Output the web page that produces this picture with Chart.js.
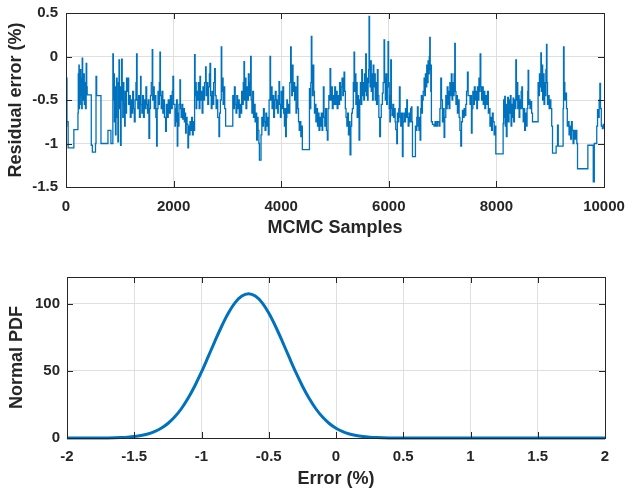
<!DOCTYPE html>
<html><head><meta charset="utf-8">
<script src="https://cdn.jsdelivr.net/npm/chart.js@4"></script>
<style>
html,body{margin:0;padding:0;background:#fff;width:626px;height:490px;overflow:hidden}
canvas{position:absolute;left:0;display:block}
</style></head><body>
<canvas id="c1" width="626" height="245" style="top:0;width:626px;height:245px"></canvas>
<canvas id="c2" width="626" height="245" style="top:245px;width:626px;height:245px"></canvas>
<script>
// ---------- data ----------
// MCMC trace: [sample index, residual error (%)]
const residualTrace = [
[0,0.0],[6,-0.8],[12,-0.25],[18,-0.75],[40,-1.05],[140,-1.05],[146,-0.84],[215,-0.84],[222,-0.65],[228,-0.2],[234,-0.5],[240,-0.1],[246,-0.6],[252,-0.3],[258,-0.55],[266,-0.15],[274,-0.45],[282,-0.25],[292,-0.6],[301,-0.02],[310,-0.35],[320,-0.5],[330,-0.2],[340,-0.55],[350,-0.3],[362,-0.6],[375,-0.08],[385,-0.35],[394,-0.44],[465,-0.44],[470,-1.02],[490,-1.1],[540,-1.1],[548,-1.0],[558,-0.23],[570,-0.45],[640,-0.45],[650,-1.0],[775,-1.0],[780,-0.85],[828,-0.85],[835,-1.0],[860,-1.0],[871,0.03],
[880,-0.5],[890,-0.2],[900,-0.75],[910,-0.35],[920,-0.9],[930,-0.5],[940,-0.25],[950,-0.7],[964,-0.98],[975,-0.3],[985,-0.04],[995,-0.6],[1005,-0.35],[1014,-1.02],[1025,-0.5],[1035,-0.03],[1045,-0.45],[1055,-0.7],[1065,-0.3],[1075,-0.55],[1090,-0.8],[1100,-0.4],[1110,-0.65],[1125,-0.25],[1138,-0.4],[1150,-0.25],[1165,-0.55],[1180,-0.45],[1195,-0.7],[1210,-0.5],[1225,-0.65],[1240,-0.4],[1255,-0.6],[1270,-0.75],[1285,-0.5],[1300,-0.3],[1312,0.03],[1322,-0.5],[1335,-0.6],[1350,-0.45],[1365,-0.7],[1380,-0.5],[1386,-0.23],[1395,-0.55],[1410,-0.65],[1425,-0.45],[1440,-0.7],[1455,-0.5],[1470,-0.6],[1485,-0.35],[1500,-0.55],[1515,-0.65],[1530,-0.5],[1541,-0.94],[1555,-0.6],[1570,-0.45],[1585,-0.3],[1603,0.08],[1612,-0.5],[1625,-0.35],[1640,-0.6],[1655,-0.45],[1670,-0.7],[1684,-1.03],[1695,-0.6],[1710,-0.4],[1725,-0.55],[1735,-0.3],[1746,0.05],[1755,-0.45],[1770,-0.6],[1785,-0.4],[1800,-0.65],[1815,-0.5],[1830,-0.7],[1851,-0.86],[1865,-0.55],[1880,-0.7],[1900,-0.5],[1920,-0.65],[1940,-0.45],[1960,-0.6],[1975,-0.4],[1987,-0.23],[2000,-0.55],[2025,-0.8],
[2035,-0.6],[2045,-0.75],[2055,-0.5],[2068,-1.03],[2078,-0.65],[2090,-0.8],[2100,-0.55],[2118,-0.27],[2128,-0.6],[2140,-0.7],[2155,-0.55],[2170,-0.72],[2185,-0.6],[2200,-0.75],[2212,-0.65],[2223,-0.88],[2235,-0.7],[2250,-0.78],[2266,-1.05],[2278,-0.8],[2290,-0.9],[2305,-0.75],[2320,-0.85],[2335,-0.7],[2350,-0.9],[2365,-0.75],[2378,-0.85],[2390,0.02],[2400,-0.45],[2410,-0.3],[2420,-0.6],[2430,-0.4],[2445,-0.5],[2460,-0.3],[2475,-0.6],[2490,-0.23],[2500,-0.5],[2515,-0.4],[2530,-0.65],[2545,-0.35],[2560,-0.5],[2575,-0.3],[2595,-0.12],[2605,-0.45],[2620,-0.3],[2635,-0.55],[2650,-0.35],[2665,-0.2],[2676,-0.08],[2688,-0.45],[2700,-0.6],[2715,-0.4],[2730,-0.55],[2745,-0.3],[2762,-0.14],[2775,-0.45],[2790,-0.6],[2805,-0.5],[2820,-0.7],[2843,-0.92],[2855,-0.65],[2870,-0.5],[2886,0.11],[2895,-0.4],[2905,-0.25],[2920,-0.55],[2935,-0.35],[2950,-0.6],[2967,-0.8],[3091,-0.8],[3100,-0.45],[3115,-0.6],[3130,-0.35],[3145,-0.55],[3160,-0.65],[3175,-0.45],[3190,-0.6],[3205,-0.5],[3220,-0.7],[3235,-0.55],[3250,-0.65],[3265,-0.4],[3280,-0.55],[3295,-0.3],[3308,-0.06],[3318,-0.5],[3330,-0.25],[3345,-0.6],[3360,-0.35],[3375,-0.5],[3390,-0.2],[3405,-0.45],[3420,-0.3],[3432,0.0],[3442,-0.5],[3455,-0.65],[3470,-0.4],[3485,-0.7],[3500,-0.55],[3515,-0.75],[3530,-0.65],[3544,-0.96],[3556,-0.7],[3570,-0.85],[3585,-1.0],[3595,-1.19],[3615,-1.19],[3625,-0.9],[3640,-0.7],[3655,-0.8],[3670,-0.6],[3685,-0.75],[3700,-0.85],[3715,-0.65],[3730,-0.8],[3745,-0.7],[3760,-0.9],[3775,-0.5],[3792,0.0],[3802,-0.5],[3815,-0.35],[3830,-0.6],[3845,-0.45],[3860,-0.7],[3875,-0.5],[3890,-0.4],[3905,-0.6],[3920,-0.5],[3935,-0.65],[3945,-0.45],[3959,-0.29],[3970,-0.55],[3985,-0.7],[4000,-0.4],[4015,-0.6],[4030,-0.35],[4045,-0.65],[4060,-0.8],[4070,-0.6],[4083,-0.92],
[4095,-0.7],[4105,-0.5],[4114,-0.65],[4130,-0.55],[4145,-0.65],[4160,-0.3],[4176,0.11],[4186,-0.2],[4196,-0.45],[4207,-0.1],[4220,-0.4],[4235,-0.3],[4250,-0.5],[4262,-0.35],[4275,-0.65],[4288,-0.55],[4300,-0.23],[4310,-0.6],[4322,-0.75],[4335,-0.85],[4350,-0.75],[4365,-0.92],[4380,-0.8],[4393,-1.07],[4517,-1.07],[4525,-0.37],[4540,-0.6],[4550,-0.3],[4560,0.23],[4570,-0.2],[4580,-0.45],[4592,-0.1],[4605,-0.4],[4618,-0.65],[4630,-0.55],[4645,-0.75],[4660,-0.6],[4675,-0.8],[4690,-0.65],[4703,-0.85],[4718,-0.7],[4730,-0.8],[4745,-0.65],[4760,-0.85],[4772,-0.7],[4784,-0.35],[4796,-0.7],[4810,-0.8],[4825,-0.6],[4840,-0.85],[4858,-0.96],[4870,-0.6],[4885,-0.45],[4896,-0.5],[4908,-0.14],[4920,-0.5],[4935,-0.35],[4950,-0.6],[4965,-0.45],[4980,-0.55],[4995,-0.35],[5010,-0.55],[5025,-0.4],[5040,-0.6],[5055,-0.45],[5070,-0.55],[5085,-0.3],[5100,-0.5],[5115,-0.35],[5130,-0.25],[5145,-0.45],[5155,-0.3],[5168,-0.18],[5180,-0.4],[5192,-0.6],[5205,-0.7],[5220,-0.8],[5235,-0.65],[5250,-0.9],[5265,-0.75],[5280,-1.13],[5295,-0.8],[5310,-0.65],[5323,-0.6],[5340,-0.3],[5354,0.05],[5364,-0.4],[5375,-0.2],[5388,-0.55],[5400,-0.3],[5412,-0.7],[5425,-0.45],[5436,-0.6],[5447,-0.96],[5460,-0.5],[5472,-0.3],[5485,-0.55],[5497,-0.15],[5510,-0.45],[5522,-0.3],[5535,-0.5],[5548,-0.2],[5560,-0.4],[5571,0.03],[5582,-0.45],[5594,-0.25],[5605,-0.5],[5615,-0.3],[5624,-0.15],[5633,0.46],[5642,-0.1],[5652,-0.35],[5662,-0.05],[5674,-0.4],[5686,-0.2],[5698,-0.5],[5710,-0.1],[5722,-0.35],[5735,-0.2],[5748,-0.5],[5760,-0.3],[5772,-0.55],[5788,-0.15],[5800,-0.45],[5815,-0.7],[5831,-0.92],[5845,-0.7],[5860,-0.55],[5881,-0.42],[5895,-0.3],[5912,0.19],[5922,-0.25],[5935,-0.5],[5948,-0.2],[5960,-0.55],[5972,-0.35],[5986,0.17],[5996,-0.3],[6008,-0.6],[6020,-0.75],[6030,-0.45],[6036,-0.04],
[6048,-0.6],[6060,-0.68],[6075,-0.55],[6090,-0.7],[6105,-0.6],[6118,-0.75],[6129,-0.84],[6148,-1.0],[6160,-0.65],[6172,-0.75],[6185,-0.6],[6197,-0.35],[6210,-0.7],[6222,-0.8],[6235,-0.65],[6253,-1.15],[6265,-0.75],[6280,-0.65],[6295,-0.75],[6310,-0.6],[6322,-0.7],[6334,-0.5],[6346,-0.7],[6360,-0.8],[6375,-0.65],[6390,-0.75],[6405,-0.6],[6420,-0.58],[6430,-0.75],[6440,-1.15],[6482,-1.15],[6495,-0.8],[6510,-0.85],[6520,-0.7],[6532,-0.58],[6545,-0.8],[6560,-0.85],[6570,-0.7],[6582,-0.96],[6594,-0.6],[6605,-0.45],[6615,-0.65],[6625,-0.5],[6640,-0.4],[6656,-0.25],[6668,-0.45],[6680,-0.2],[6692,-0.35],[6705,-0.1],[6718,-0.3],[6730,-0.05],[6742,-0.2],[6752,0.0],[6761,0.22],[6770,-0.15],[6780,-0.4],[6786,-0.1],[6792,-0.75],[6811,-0.78],[6840,-0.8],[6860,-0.75],[6880,-0.8],[6905,-0.75],[6935,-0.8],[6950,-0.6],[6966,-0.25],[6980,-0.5],[6997,-0.75],[7012,-0.6],[7028,-0.93],[7040,-0.7],[7059,-0.45],[7072,-0.6],[7085,-0.35],[7100,-0.55],[7112,-0.4],[7121,-0.6],[7135,-0.3],[7150,-0.45],[7162,-0.2],[7175,-0.5],[7188,-0.3],[7202,-0.45],[7214,-0.2],[7226,0.15],[7236,-0.4],[7248,-0.55],[7260,-0.45],[7275,-0.65],[7290,-0.5],[7307,-0.7],[7322,-0.85],[7338,-1.03],[7352,-0.75],[7369,-0.62],[7385,-0.7],[7400,-0.6],[7415,-0.68],[7431,-0.55],[7445,-0.4],[7462,-0.18],[7475,-0.45],[7493,-0.45],[7510,-0.55],[7524,-0.45],[7536,-0.88],[7548,-0.6],[7562,-0.4],[7575,-0.55],[7590,-0.35],[7605,-0.5],[7620,-0.4],[7635,-0.6],[7648,-0.35],[7662,-0.5],[7675,-0.25],[7688,-0.4],[7698,0.03],[7710,-0.35],[7725,-0.5],[7741,-0.35],[7755,-0.55],[7770,-0.4],[7785,-0.6],[7800,-0.45],[7815,-0.55],[7834,-0.4],[7850,-0.65],[7865,-0.6],[7880,-0.8],[7895,-0.7],[7910,-0.85],[7925,-0.65],[7940,-0.75],[7958,-0.9],[7970,-0.8],[7989,-1.12],[8120,-1.12],
[8125,-0.77],[8135,-0.5],[8144,-0.7],[8155,-0.46],[8165,-0.8],[8175,-0.55],[8185,-0.92],[8198,-0.6],[8210,-0.47],[8222,-0.75],[8235,-0.5],[8248,-0.65],[8260,-0.45],[8272,-0.8],[8285,-0.55],[8298,-0.7],[8310,-0.48],[8322,-0.75],[8335,-0.5],[8348,-0.6],[8361,-0.04],[8372,-0.5],[8385,-0.3],[8397,-0.6],[8410,-0.45],[8422,-0.7],[8435,-0.5],[8448,-0.6],[8460,-0.4],[8473,-0.35],[8485,-0.6],[8498,-0.75],[8510,-0.6],[8525,-0.85],[8540,-0.65],[8555,-0.8],[8570,-0.6],[8582,-0.4],[8590,-0.16],[8600,-0.55],[8612,-0.5],[8625,-0.6],[8640,-0.52],[8655,-0.65],[8671,-0.75],[8764,-0.75],[8775,-0.3],[8788,-0.45],[8800,-0.2],[8812,-0.35],[8826,0.04],[8836,-0.4],[8848,-0.1],[8860,-0.5],[8872,-0.2],[8885,-0.55],[8898,-0.3],[8910,-0.45],[8920,-0.15],[8931,0.14],[8940,-0.3],[8950,-0.55],[8965,-0.45],[8980,-0.6],[8995,-0.5],[9012,-0.6],[9028,-0.8],[9043,-1.11],[9105,-1.11],[9110,-1.03],[9132,-1.03],[9136,-0.79],[9150,-1.03],[9229,-1.03],[9240,-0.6],[9248,0.11],[9258,-0.3],[9272,-0.5],[9287,-0.42],[9303,-0.6],[9318,-0.8],[9335,-0.75],[9350,-0.9],[9365,-0.8],[9380,-0.95],[9395,-0.75],[9410,-0.85],[9425,-1.0],[9440,-0.85],[9460,-0.95],[9477,-0.85],[9495,-1.0],[9508,-1.29],[9694,-1.29],[9700,-1.02],[9787,-1.02],[9800,-1.44],[9812,-1.44],[9820,-1.0],[9850,-1.0],[9865,-0.8],[9880,-0.61],[9895,-0.7],[9910,-0.5],[9923,-0.31],[9935,-0.6],[9950,-0.8],[9970,-0.83],[9985,-0.78],[10000,-0.82]
];

// Normal PDF curve
const errorPct = [-2,-1.9,-1.8,-1.7,-1.6,-1.55,-1.5,-1.45,-1.4,-1.35,-1.3,-1.25,-1.2,-1.15,-1.1,-1.05,-1,-0.95,-0.9,-0.85,-0.8,-0.75,-0.7,-0.65,-0.6,-0.55,-0.5,-0.45,-0.4,-0.35,-0.3,-0.25,-0.2,-0.15,-0.1,-0.05,0,0.05,0.1,0.15,0.2,0.25,0.3,0.4,0.5,0.6,0.8,1,1.2,1.4,1.6,1.8,2];
const normalPdf = [0,0,0.02,0.09,0.34,0.61,1.07,1.81,2.98,4.72,7.27,10.8,15.6,21.8,29.6,38.8,49.2,60.6,72.2,83.3,93.1,100.9,105.8,107.5,105.8,100.9,93.1,83.3,72.2,60.6,49.2,38.8,29.6,21.8,15.6,10.8,7.27,4.72,2.98,1.81,1.07,0.61,0.34,0.09,0.02,0,0,0,0,0,0,0,0];

// tick labels
const topXTicks = [0,2000,4000,6000,8000,10000];
const topYTicks = [0.5,0,-0.5,-1,-1.5];
const botXTicks = [-2,-1.5,-1,-0.5,0,0.5,1,1.5,2];
const botYTicks = [0,50,100];

// ---------- styling ----------
const BLUE = '#0072BD';
const TXT = '#262626';
const GRID = '#dfdfdf';
const FAMILY = '"Liberation Sans", Arial, Helvetica, sans-serif';

const boxPlugin = {
  id: 'box',
  afterDatasetsDraw(chart) {
    const {ctx, chartArea, scales} = chart;
    const {left, right, top, bottom} = chartArea;
    const xs = scales.x, ys = scales.y;
    ctx.save();
    ctx.strokeStyle = TXT;
    ctx.lineWidth = 1;
    ctx.beginPath();
    xs.ticks.forEach(t => {
      const px = Math.round(xs.getPixelForValue(t.value)) + 0.5;
      ctx.moveTo(px, bottom); ctx.lineTo(px, bottom - 6);
      ctx.moveTo(px, top); ctx.lineTo(px, top + 6);
    });
    ys.ticks.forEach(t => {
      const py = Math.round(ys.getPixelForValue(t.value)) + 0.5;
      ctx.moveTo(left, py); ctx.lineTo(left + 6, py);
      ctx.moveTo(right, py); ctx.lineTo(right - 6, py);
    });
    ctx.stroke();
    ctx.strokeRect(Math.round(left) + 0.5, Math.round(top) + 0.5, Math.round(right - left), Math.round(bottom - top));
    ctx.restore();
  }
};

function axisCfg(ticksArr, min, max, title, opts) {
  return {
    type: 'linear', min, max,
    afterBuildTicks: s => { s.ticks = ticksArr.map(v => ({value: v})); },
    afterFit: opts.fit,
    ticks: {
      autoSkip: false, maxRotation: 0, padding: opts.pad, color: TXT,
      font: {family: FAMILY, size: 15, weight: 'bold'},
      callback: v => String(v)
    },
    grid: {color: GRID, lineWidth: 1, drawTicks: false},
    border: {display: false},
    title: {display: true, text: title, color: TXT,
      font: {family: FAMILY, size: 18, weight: 'bold'},
      padding: opts.tpad}
  };
}

Chart.defaults.animation = false;

new Chart(document.getElementById('c1'), {
  type: 'line',
  data: {datasets: [{
    data: residualTrace.map(p => ({x: p[0], y: p[1]})),
    borderColor: BLUE, borderWidth: 1.3, pointRadius: 0, stepped: 'before', fill: false
  }]},
  options: {
    responsive: false, devicePixelRatio: 1, parsing: false,
    layout: {padding: {top: 13, right: 22, left: 0, bottom: 0}},
    plugins: {legend: {display: false}, tooltip: {enabled: false}},
    scales: {
      x: axisCfg(topXTicks, 0, 10000, 'MCMC Samples', {pad: 11, tpad: {top: 0, bottom: 6}, fit: s => { s.height = 58; s.paddingLeft = 0; s.paddingRight = 0; }}),
      y: axisCfg(topYTicks, -1.5, 0.5, 'Residual error (%)', {pad: 8, tpad: {top: 5, bottom: 0}, fit: s => { s.width = 66; s.paddingTop = 0; s.paddingBottom = 0; }})
    }
  },
  plugins: [boxPlugin]
});

new Chart(document.getElementById('c2'), {
  type: 'line',
  data: {datasets: [{
    data: errorPct.map((x, i) => ({x, y: normalPdf[i]})),
    borderColor: BLUE, borderWidth: 3, pointRadius: 0, cubicInterpolationMode: 'monotone', fill: false, clip: 4
  }]},
  options: {
    responsive: false, devicePixelRatio: 1, parsing: false,
    layout: {padding: {top: 32, right: 21, left: 0, bottom: 0}},
    plugins: {legend: {display: false}, tooltip: {enabled: false}},
    scales: {
      x: axisCfg(botXTicks, -2, 2, 'Error (%)', {pad: 10, tpad: {top: 0, bottom: 0}, fit: s => { s.height = 52; s.paddingLeft = 0; s.paddingRight = 0; }}),
      y: axisCfg(botYTicks, 0, 120, 'Normal PDF', {pad: 7, tpad: {top: 6, bottom: 0}, fit: s => { s.width = 67; s.paddingTop = 0; s.paddingBottom = 0; }})
    }
  },
  plugins: [boxPlugin]
});
</script>
</body></html>
